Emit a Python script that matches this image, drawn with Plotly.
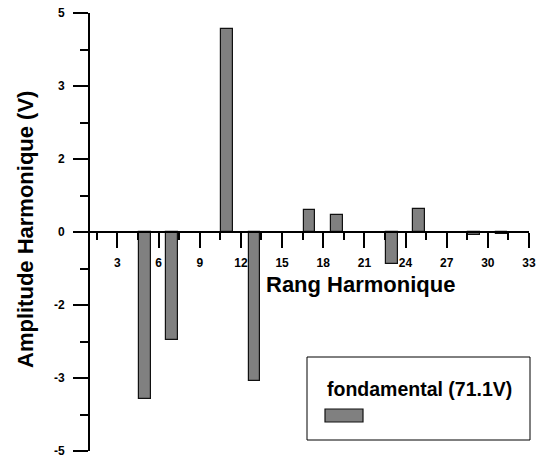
import plotly.graph_objects as go

# Data
harmonics = [5, 7, 11, 13, 17, 19, 23, 25, 29, 31]
amplitudes = [-3.81, -2.47, 4.64, -3.40, 0.50, 0.38, -0.74, 0.53, -0.06, -0.04]
series_name = "fondamental (71.1V)"

y_tickvals = [-5, -10/3, -5/3, 0, 5/3, 10/3, 5]
y_ticktext = ["-5", "-3", "-2", "0", "2", "3", "5"]
y_minor = [-25/6, -2.5, -5/6, 5/6, 2.5, 25/6]

FONT = "Liberation Sans, Arial, sans-serif"
W, H = 541, 459
L, R, T, B = 90, 12, 13, 8
pw, ph = W - L - R, H - T - B

def px(x):
    return (x - L) / pw

def py(y):
    return (H - B - y) / ph

fig = go.Figure()
fig.add_trace(go.Bar(
    x=harmonics, y=amplitudes, name=series_name, width=0.85,
    marker=dict(color="#808080", line=dict(color="#111111", width=1.2)),
    showlegend=False,
))

fig.update_layout(
    width=W, height=H,
    margin=dict(l=L, r=R, t=T, b=B, autoexpand=False),
    paper_bgcolor="white", plot_bgcolor="white",
    font=dict(family=FONT, color="black", size=12, weight="bold"),
    bargap=0,
    xaxis=dict(
        range=[1, 33], tick0=0, dtick=3, ticks="outside", ticklen=15, tickwidth=2,
        tickcolor="black", showline=True, linecolor="black", linewidth=2,
        showgrid=False, zeroline=False, anchor="free", position=0.5, automargin=False,
        ticklabelstandoff=5,
        tickfont=dict(family=FONT, size=12, weight="bold"),
        minor=dict(ticks="outside", ticklen=7, tickwidth=2, tickcolor="black",
                   tick0=0, dtick=1.5, showgrid=False),
    ),
    yaxis=dict(
        range=[-5, 5], tickvals=y_tickvals, ticktext=y_ticktext, automargin=False,
        ticks="outside", ticklen=15, tickwidth=2, tickcolor="black",
        showline=True, linecolor="black", linewidth=2, showgrid=False,
        zeroline=False, ticklabelstandoff=6,
        tickfont=dict(family=FONT, size=12, weight="bold"),
        minor=dict(ticks="outside", ticklen=8, tickwidth=2, tickcolor="black",
                   tickvals=y_minor, showgrid=False),
    ),
)

annotations = [
    dict(text="Rang Harmonique", x=px(360), y=py(284), xref="paper", yref="paper",
         showarrow=False, xanchor="center", yanchor="middle",
         font=dict(family=FONT, size=22, weight="bold")),
    dict(text="Amplitude Harmonique (V)", x=px(26), y=py(230), xref="paper", yref="paper",
         showarrow=False, textangle=-90, xanchor="center", yanchor="middle",
         font=dict(family=FONT, size=22, weight="bold")),
    dict(text=series_name, x=px(325), y=py(389), xref="paper", yref="paper",
         showarrow=False, xanchor="left", yanchor="middle",
         font=dict(family=FONT, size=19.5, weight="bold")),
]
shapes = [
    dict(type="rect", xref="paper", yref="paper", x0=px(307), x1=px(530),
         y0=py(440), y1=py(357), line=dict(color="black", width=1), fillcolor="white",
         layer="below"),
    dict(type="rect", xref="paper", yref="paper", x0=px(325), x1=px(363),
         y0=py(422), y1=py(409), line=dict(color="#111111", width=1.2),
         fillcolor="#808080"),
]
fig.update_layout(annotations=annotations, shapes=shapes)

fig.write_html("out.html")
